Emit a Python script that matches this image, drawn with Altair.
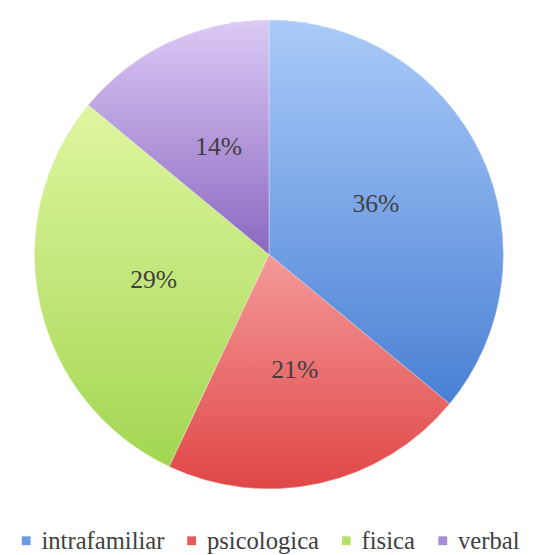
import altair as alt
import pandas as pd

categories = ["intrafamiliar", "psicologica", "fisica", "verbal"]
values = [36, 21, 29, 14]
labels = ["36%", "21%", "29%", "14%"]
base_colors = ["#6a9be4", "#e65a5a", "#b6e06a", "#a98ad8"]
grad_top = ["#aacbf9", "#f49a9a", "#e0f6a0", "#dccaf6"]
grad_bottom = ["#4a80d4", "#e04646", "#a2d652", "#8a68c0"]

df = pd.DataFrame({"cat": categories, "value": values, "label": labels,
                   "order": list(range(len(categories)))})

FONT = "Liberation Serif"

base = alt.Chart(df).transform_window(
    end="sum(value)", sort=[alt.SortField("order")], frame=[None, 0]
).transform_calculate(
    start="datum.end - datum.value",
    mid="(datum.end + datum.start) / 2"
)

theta_scale = alt.Scale(domain=[0, 100], range=[0, 6.283185307179586])
R = 238

color_layer = base.mark_arc(outerRadius=R).encode(
    theta=alt.Theta("start:Q", scale=theta_scale),
    theta2="end:Q",
    color=alt.Color("cat:N", scale=alt.Scale(domain=categories, range=base_colors),
                    legend=alt.Legend(
                        title=None, orient="none", direction="horizontal",
                        legendX=2, legendY=524,
                        symbolType="square", symbolSize=80, symbolStrokeWidth=0,
                        labelFont=FONT, labelFontSize=25, labelColor="#404040",
                        labelOffset=3, columnPadding=15, symbolOffset=0,
                    )),
)

layers = [color_layer]
for i, c in enumerate(categories):
    g = alt.Gradient(gradient="linear",
                     stops=[alt.GradientStop(color=grad_top[i], offset=0),
                            alt.GradientStop(color=grad_bottom[i], offset=1)],
                     x1=0, x2=0, y1=0, y2=1)
    layers.append(
        base.transform_filter(alt.datum.cat == c).mark_arc(
            outerRadius=R, fill=g, stroke="#ffffff", strokeWidth=0.6, strokeOpacity=0.6
        ).encode(
            theta=alt.Theta("start:Q", scale=theta_scale),
            theta2="end:Q",
        )
    )

text_layer = base.mark_text(radius=120, font=FONT, fontSize=26, color="#404040").encode(
    theta=alt.Theta("mid:Q", scale=theta_scale),
    text="label:N",
)
layers.append(text_layer)

chart = alt.layer(*layers).properties(
    width=522, height=492,
    autosize="none",
    padding={"left": 4, "top": 0, "right": 0, "bottom": 55},
).configure_view(stroke=None).configure(background="white")

chart.save("out.html", embed_options={"renderer": "svg", "actions": False})
